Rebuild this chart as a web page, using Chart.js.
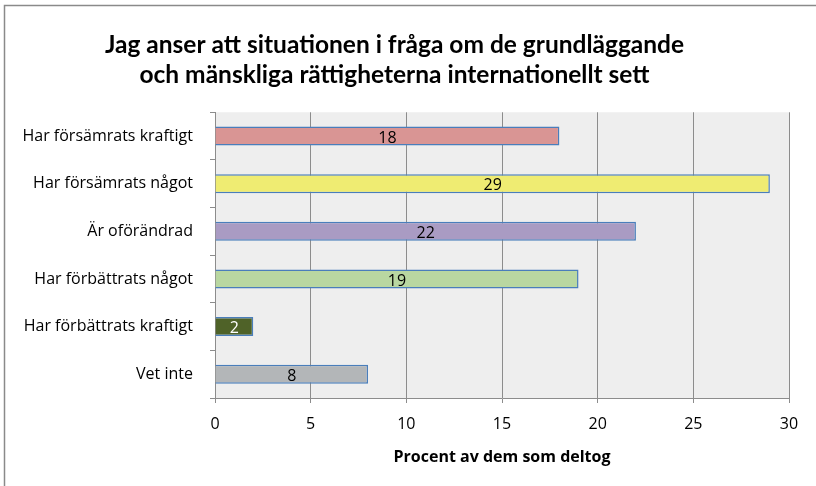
<!DOCTYPE html>
<html>
<head>
<meta charset="utf-8">
<script src="https://cdn.jsdelivr.net/npm/chart.js@4/dist/chart.umd.min.js"></script>
<style>
html,body{margin:0;padding:0;background:#fff;}
#wrap{position:relative;width:816px;height:486px;}
</style>
</head>
<body>
<div id="wrap"><canvas id="c" width="816" height="486"></canvas></div>
<script>
const titleLines = ["Jag anser att situationen i fråga om de grundläggande", "och mänskliga rättigheterna internationellt sett"];
const categories = ["Har försämrats kraftigt", "Har försämrats något", "Är oförändrad", "Har förbättrats något", "Har förbättrats kraftigt", "Vet inte"];
const values = [18, 29, 22, 19, 2, 8];
const xTitle = "Procent av dem som deltog";
const xMin = 0, xMax = 30, xStep = 5;

const barColors = ["#d99594", "#efec72", "#a99bc3", "#b9d7a1", "#4f6228", "#b3b6b8"];
const labelColors = ["#000", "#000", "#000", "#000", "#fff", "#000"];
const FONT = "'Open Sans', sans-serif";
const TFONT = "Lato, sans-serif";

const bgPlugin = {
  id: 'bg',
  beforeDraw(chart) {
    const {ctx, chartArea: a} = chart;
    ctx.save();
    ctx.fillStyle = '#fff';
    ctx.fillRect(0, 0, chart.width, chart.height);
    ctx.strokeStyle = '#8a8a8a';
    ctx.lineWidth = 1.5;
    ctx.beginPath();
    ctx.moveTo(4.5, chart.height);
    ctx.lineTo(4.5, 5.5);
    ctx.lineTo(chart.width, 5.5);
    ctx.stroke();
    ctx.fillStyle = '#eeeeee';
    ctx.fillRect(a.left, a.top, a.right - a.left, a.bottom - a.top);
    ctx.restore();
  }
};

const valuePlugin = {
  id: 'vals',
  afterDatasetsDraw(chart) {
    const {ctx} = chart;
    const meta = chart.getDatasetMeta(0);
    ctx.save();
    ctx.font = "16px " + FONT;
    ctx.textAlign = 'center';
    ctx.textBaseline = 'middle';
    meta.data.forEach((bar, i) => {
      const x = (bar.x + bar.base) / 2;
      ctx.fillStyle = labelColors[i];
      ctx.fillText(String(values[i]), x, bar.y + 2);
    });
    ctx.restore();
  }
};

function build() {
  new Chart(document.getElementById('c'), {
    type: 'bar',
    data: {
      labels: categories,
      datasets: [{
        data: values,
        backgroundColor: barColors,
        borderColor: '#4a7ebb',
        borderWidth: 1.5,
        categoryPercentage: 1,
        barPercentage: 0.4
      }]
    },
    options: {
      indexAxis: 'y',
      responsive: false,
      animation: false,
      devicePixelRatio: 1,
      layout: {padding: {left: 0, right: 27, top: 0, bottom: 0}},
      plugins: {
        legend: {display: false},
        tooltip: {enabled: false},
        title: {
          display: true,
          text: titleLines,
          color: '#000',
          font: {family: TFONT, size: 24.5, weight: 'bold', lineHeight: 1.23},
          padding: {top: 30, bottom: 22}
        }
      },
      scales: {
        x: {
          min: xMin, max: xMax,
          afterFit(s) { s.height = 88; },
          ticks: {stepSize: xStep, color: '#000', font: {family: FONT, size: 16}, padding: 12},
          grid: {color: '#8c8c8c', lineWidth: 1, tickLength: 5, drawTicks: true},
          border: {color: '#8c8c8c', width: 1},
          title: {display: true, text: xTitle, color: '#000', font: {family: FONT, size: 16, weight: 'bold'}, padding: {top: 4, bottom: 19}}
        },
        y: {
          afterFit(s) { s.width = 215; },
          ticks: {color: '#000', font: {family: FONT, size: 16}, padding: 17},
          grid: {drawOnChartArea: false, drawTicks: true, tickLength: 5, color: '#8c8c8c', offset: true},
          border: {color: '#8c8c8c', width: 1}
        }
      }
    },
    plugins: [bgPlugin, valuePlugin]
  });
}

Promise.all([
  document.fonts.load("16px 'Open Sans'"),
  document.fonts.load("bold 16px 'Open Sans'"),
  document.fonts.load("bold 24px Lato")
]).then(build, build);
</script>
</body>
</html>
